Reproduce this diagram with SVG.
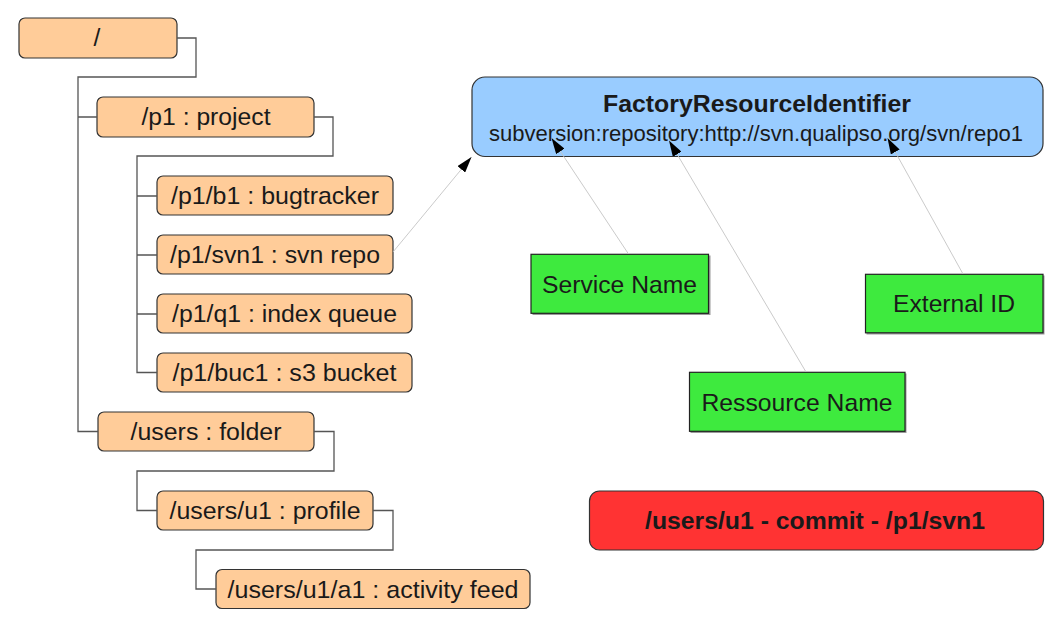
<svg xmlns="http://www.w3.org/2000/svg" width="1058" height="622" viewBox="0 0 1058 622">
<defs>
<style>
.t{font-family:"Liberation Sans",Arial,sans-serif;font-size:24.6px;fill:#1a1a1a;text-anchor:middle}
.s{font-size:22px}
.b{font-weight:bold}
.org{fill:#FFCC99;stroke:#333;stroke-width:1.2}
.grn{fill:#3EEA3E;stroke:#222;stroke-width:1.2}
.shd{fill:#999}
.tree{fill:none;stroke:#555;stroke-width:1.3}
.arr{fill:none;stroke:#c4c4c4;stroke-width:0.9;marker-end:url(#ah)}
</style>
<marker id="ah" markerUnits="userSpaceOnUse" markerWidth="16" markerHeight="10" refX="16" refY="5" orient="auto">
<path d="M0,0 L16,5 L0,10 z" fill="#000"/>
</marker>
</defs>
<rect width="1058" height="622" fill="#fff"/>

<g id="root"><rect class="org" x="19" y="18" width="158" height="40" rx="6"/><text class="t" x="97" y="46">/</text></g>
<g id="p1"><rect class="org" x="97" y="97" width="217" height="40" rx="6"/><text class="t" x="206" y="125" textLength="129" lengthAdjust="spacingAndGlyphs">/p1 : project</text></g>
<g id="b1"><rect class="org" x="157" y="176" width="236" height="39" rx="6"/><text class="t" x="275" y="204" textLength="208" lengthAdjust="spacingAndGlyphs">/p1/b1 : bugtracker</text></g>
<g id="svn1"><rect class="org" x="157" y="235" width="236" height="39" rx="6"/><text class="t" x="275" y="263" textLength="210" lengthAdjust="spacingAndGlyphs">/p1/svn1 : svn repo</text></g>
<g id="q1"><rect class="org" x="157" y="294" width="255" height="39" rx="6"/><text class="t" x="284.5" y="322" textLength="225" lengthAdjust="spacingAndGlyphs">/p1/q1 : index queue</text></g>
<g id="buc1"><rect class="org" x="157" y="353" width="255" height="39" rx="6"/><text class="t" x="284.5" y="381" textLength="224" lengthAdjust="spacingAndGlyphs">/p1/buc1 : s3 bucket</text></g>
<g id="users"><rect class="org" x="98" y="412" width="216" height="39" rx="6"/><text class="t" x="206" y="440" textLength="151" lengthAdjust="spacingAndGlyphs">/users : folder</text></g>
<g id="u1"><rect class="org" x="157" y="491" width="216" height="39" rx="6"/><text class="t" x="265" y="519" textLength="191" lengthAdjust="spacingAndGlyphs">/users/u1 : profile</text></g>
<g id="a1"><rect class="org" x="216" y="569.5" width="314" height="39" rx="6"/><text class="t" x="373" y="597.5" textLength="291" lengthAdjust="spacingAndGlyphs">/users/u1/a1 : activity feed</text></g>

<g id="fri">
<rect x="472" y="77" width="571" height="79.5" rx="13" fill="#99CCFF" stroke="#333" stroke-width="1.2"/>
<text class="t b" x="757" y="112" textLength="308" lengthAdjust="spacingAndGlyphs">FactoryResourceIdentifier</text>
<text class="t s" x="756" y="141.3" textLength="534" lengthAdjust="spacingAndGlyphs">subversion:repository:http://svn.qualipso.org/svn/repo1</text>
</g>

<g id="service">
<rect class="shd" x="532.5" y="255.5" width="178" height="59.5"/>
<rect class="grn" x="531" y="254.3" width="177.5" height="59"/>
<text class="t" x="619.5" y="292.7" textLength="155" lengthAdjust="spacingAndGlyphs">Service Name</text>
</g>
<g id="external">
<rect class="shd" x="866.5" y="275.5" width="178" height="59"/>
<rect class="grn" x="865.5" y="274.3" width="177.5" height="58.5"/>
<text class="t" x="954" y="311.7" textLength="122" lengthAdjust="spacingAndGlyphs">External ID</text>
</g>
<g id="ressource">
<rect class="shd" x="690.5" y="373.5" width="216" height="59.5"/>
<rect class="grn" x="689.5" y="372.3" width="215.5" height="59"/>
<text class="t" x="797" y="410.7" textLength="191" lengthAdjust="spacingAndGlyphs">Ressource Name</text>
</g>

<g id="event">
<rect x="589.5" y="491" width="454" height="59" rx="10" fill="#FF3333" stroke="#333" stroke-width="1.2"/>
<text class="t b" x="815" y="529" textLength="340" lengthAdjust="spacingAndGlyphs">/users/u1 - commit - /p1/svn1</text>
</g>

<g id="connectors">
<path class="tree" d="M177,38 H196 V77 H78 V431.5 H98 M78,117 H97"/>
<path class="tree" d="M314,117 H333 V156 H137 V372.5 H157 M137,196 H157 M137,255 H157 M137,314 H157"/>
<path class="tree" d="M314,431.5 H334 V471 H137 V510.5 H157"/>
<path class="tree" d="M373,510.5 H393 V550 H196 V589 H216"/>
<path class="arr" d="M393,252 L471.5,157"/>
<path class="arr" d="M628.5,254 L551.5,138"/>
<path class="arr" d="M806,372 L669,140.5"/>
<path class="arr" d="M963,274 L887.5,138"/>
</g>
</svg>
